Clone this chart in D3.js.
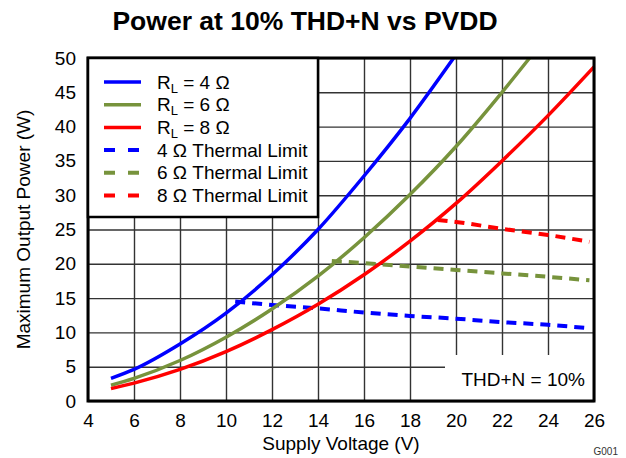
<!DOCTYPE html>
<html>
<head>
<meta charset="utf-8">
<script src="https://cdn.jsdelivr.net/npm/d3@7"></script>
<style>
  body { margin: 0; background: #fff; }
  text { font-family: "Liberation Sans", Arial, sans-serif; }
</style>
</head>
<body>
<div id="chart"></div>
<script>
// data
var rl4V = [5, 6, 8, 10, 12, 14, 16, 18, 19.9];
var rl4P = [3.3, 4.6, 8.3, 12.8, 18.4, 25.0, 32.8, 41.2, 50];
var rl6V = [5, 6, 8, 10, 12, 14, 16, 18, 20, 22, 23.2];
var rl6P = [2.3, 3.3, 5.9, 9.3, 13.4, 18.2, 23.8, 30.1, 37.1, 45.0, 50];
var rl8V = [5, 6, 8, 10, 12, 14, 16, 18, 20, 22, 24, 26];
var rl8P = [1.8, 2.6, 4.6, 7.2, 10.4, 14.1, 18.4, 23.3, 28.8, 35.0, 41.6, 48.7];

var th4V = [10.4, 12, 14, 16, 18, 20, 22, 24, 25.8];
var th4P = [14.5, 14.0, 13.5, 12.9, 12.4, 12.0, 11.5, 11.1, 10.6];
var th6V = [14.6, 16, 18, 20, 22, 24, 25.8];
var th6P = [20.4, 20.1, 19.6, 19.1, 18.6, 18.1, 17.6];
var th8V = [19.2, 20, 22, 24, 25.8];
var th8P = [26.4, 26.1, 25.1, 24.2, 23.2];

var xTicks = [4, 6, 8, 10, 12, 14, 16, 18, 20, 22, 24, 26];
var yTicks = [0, 5, 10, 15, 20, 25, 30, 35, 40, 45, 50];

var legendLabels = ["4", "6", "8"];
var colors = ["#0000ff", "#77933c", "#ff0000"];

var width = 626, height = 458;
var margin = { top: 58, right: 32, bottom: 57, left: 88 };
var fs = 19;

var svg = d3.select("#chart").append("svg")
    .attr("width", width)
    .attr("height", height);

var x = d3.scaleLinear().domain([4, 26]).range([margin.left, width - margin.right]);
var y = d3.scaleLinear().domain([0, 50]).range([height - margin.bottom, margin.top]);

// grid
svg.append("g")
    .attr("transform", "translate(0," + y(0) + ")")
    .call(d3.axisBottom(x).tickValues(xTicks).tickSize(-(y(0) - y(50))).tickFormat(""))
    .call(g => g.select(".domain").remove())
    .selectAll("line").attr("stroke", "#333").attr("stroke-width", 1.4);

svg.append("g")
    .attr("transform", "translate(" + x(4) + ",0)")
    .call(d3.axisLeft(y).tickValues(yTicks).tickSize(-(x(26) - x(4))).tickFormat(""))
    .call(g => g.select(".domain").remove())
    .selectAll("line").attr("stroke", "#333").attr("stroke-width", 1.4);

// tick labels
svg.append("g")
    .attr("transform", "translate(0," + y(0) + ")")
    .call(d3.axisBottom(x).tickValues(xTicks).tickSize(0).tickPadding(13))
    .call(g => g.select(".domain").remove())
    .selectAll("text")
    .attr("font-size", fs).attr("fill", "#000")
    .style("font-family", "'Liberation Sans', Arial, sans-serif");

svg.append("g")
    .attr("transform", "translate(" + x(4) + ",0)")
    .call(d3.axisLeft(y).tickValues(yTicks).tickSize(0).tickPadding(12))
    .call(g => g.select(".domain").remove())
    .selectAll("text")
    .attr("font-size", fs).attr("fill", "#000")
    .style("font-family", "'Liberation Sans', Arial, sans-serif");

// THD+N note box
svg.append("rect")
    .attr("x", 445).attr("y", 355)
    .attr("width", x(26) - 445).attr("height", y(0) - 355)
    .attr("fill", "#fff");
svg.append("text")
    .attr("x", 585).attr("y", 386)
    .attr("text-anchor", "end")
    .attr("font-size", fs)
    .text("THD+N = 10%");

// curves
var line = d3.line()
    .x(d => x(d[0]))
    .y(d => y(d[1]))
    .curve(d3.curveMonotoneX);

function pairs(vs, ps) { return vs.map((v, i) => [v, ps[i]]); }

var thermal = [pairs(th4V, th4P), pairs(th6V, th6P), pairs(th8V, th8P)];
var solid = [pairs(rl4V, rl4P), pairs(rl6V, rl6P), pairs(rl8V, rl8P)];

svg.selectAll(".thermal")
    .data(thermal)
    .enter().append("path")
    .attr("class", "thermal")
    .attr("d", line)
    .attr("fill", "none")
    .attr("stroke", (d, i) => colors[i])
    .attr("stroke-width", 4)
    .attr("stroke-dasharray", "10,7");

svg.selectAll(".solid")
    .data(solid)
    .enter().append("path")
    .attr("class", "solid")
    .attr("d", line)
    .attr("fill", "none")
    .attr("stroke", (d, i) => colors[i])
    .attr("stroke-width", 3.5);

// frame
svg.append("rect")
    .attr("x", x(4)).attr("y", y(50))
    .attr("width", x(26) - x(4)).attr("height", y(0) - y(50))
    .attr("fill", "none")
    .attr("stroke", "#000")
    .attr("stroke-width", 3);

// legend
var legend = svg.append("g");
legend.append("rect")
    .attr("x", x(4)).attr("y", y(50))
    .attr("width", 230).attr("height", 159)
    .attr("fill", "#fff")
    .attr("stroke", "#000")
    .attr("stroke-width", 2.5);

var rowY = 82, rowStep = 22.7;
var items = legendLabels.map((r, i) => ({ r: r, c: colors[i], dash: false }))
    .concat(legendLabels.map((r, i) => ({ r: r, c: colors[i], dash: true })));

var rows = legend.selectAll(".row")
    .data(items)
    .enter().append("g")
    .attr("class", "row")
    .attr("transform", (d, i) => "translate(0," + (rowY + i * rowStep) + ")");

rows.append("line")
    .attr("x1", 104).attr("x2", 141)
    .attr("stroke", d => d.c)
    .attr("stroke-width", d => d.dash ? 4 : 3.5)
    .attr("stroke-dasharray", d => d.dash ? "11,13" : null);

var lt = rows.append("text")
    .attr("x", 157).attr("y", 6.5)
    .attr("font-size", fs);

lt.filter(d => !d.dash).each(function (d) {
    var t = d3.select(this);
    t.append("tspan").text("R");
    t.append("tspan").attr("font-size", 13).attr("dy", 4).text("L");
    t.append("tspan").attr("dy", -4).text(" = " + d.r + " \u03A9");
});
lt.filter(d => d.dash).text(d => d.r + " \u03A9 Thermal Limit");

// titles
svg.append("text")
    .attr("x", 305).attr("y", 30)
    .attr("text-anchor", "middle")
    .attr("font-size", 26.5)
    .attr("font-weight", "bold")
    .text("Power at 10% THD+N vs PVDD");

svg.append("text")
    .attr("x", (x(4) + x(26)) / 2).attr("y", 450)
    .attr("text-anchor", "middle")
    .attr("font-size", fs)
    .text("Supply Voltage (V)");

svg.append("text")
    .attr("transform", "translate(30," + ((y(0) + y(50)) / 2) + ") rotate(-90)")
    .attr("text-anchor", "middle")
    .attr("font-size", fs)
    .text("Maximum Output Power (W)");

svg.append("text")
    .attr("x", 618).attr("y", 455)
    .attr("text-anchor", "end")
    .attr("font-size", 10)
    .attr("fill", "#333")
    .text("G001");
</script>
</body>
</html>
